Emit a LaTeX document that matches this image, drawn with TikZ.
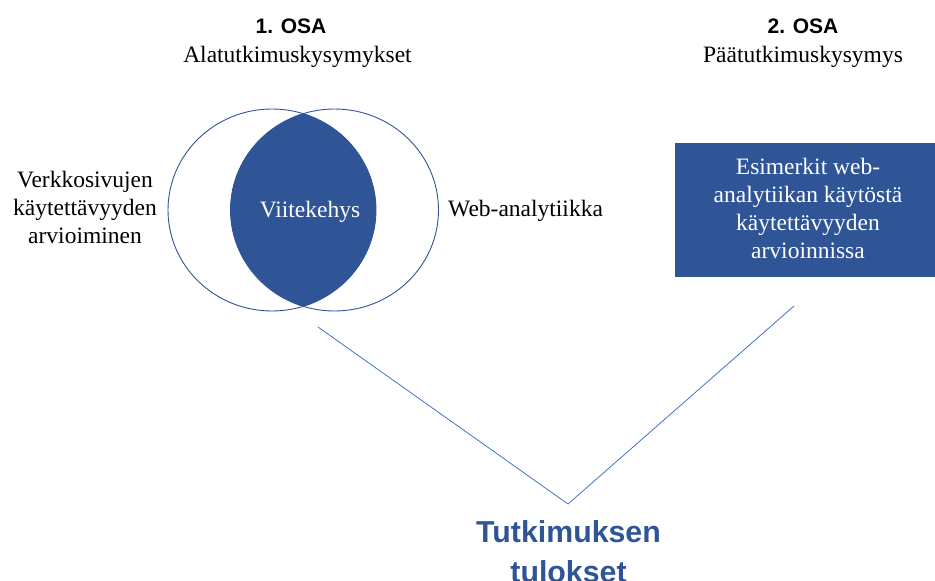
\documentclass[tikz,border=0pt]{standalone}
\usepackage{fontspec}
\setmainfont{Liberation Serif}
\setsansfont{Liberation Sans}
\usetikzlibrary{shapes.geometric}
\definecolor{dblue}{HTML}{2F5597}
\definecolor{lblue}{HTML}{4472C4}
\begin{document}
\begin{tikzpicture}[x=1pt,y=-1pt,
  head/.style={font=\sffamily\bfseries\fontsize{21}{25}\selectfont, anchor=base, inner sep=0},
  sub/.style={font=\fontsize{23.5}{28}\selectfont, anchor=base, inner sep=0},
  body/.style={font=\fontsize{23.5}{27.7}\selectfont, align=center, anchor=base, inner sep=0},
  ring/.style={draw=dblue, line width=0.9pt, ellipse, minimum width=208pt, minimum height=202pt, inner sep=0},
  link/.style={draw=lblue, line width=0.8pt}
]
\useasboundingbox (0,0) rectangle (935,581);
% headers
\node[head] (h1) at (291,33) {1. OSA};
\node[sub] (s1) at (297.5,62) {Alatutkimuskysymykset};
\node[head] (h2) at (803,33) {2. OSA};
\node[sub] (s2) at (803,62) {Päätutkimuskysymys};
% lens
\begin{scope}
  \clip (272,210) ellipse [x radius=104, y radius=101];
  \fill[dblue] (334.5,210) ellipse [x radius=104, y radius=101];
\end{scope}
\node[ring] (cl) at (272,210) {};
\node[ring] (cr) at (334.5,210) {};
\node[body, text=white] (vk) at (310,217) {Viitekehys};
\node[body] (left) at (85,243) {Verkkosivujen\\käytettävyyden\\arvioiminen};
\node[body, anchor=base west] (web) at (448,216) {Web-analytiikka};
% box
\node[fill=dblue, minimum width=260pt, minimum height=134pt, inner sep=0] (box) at (805,210) {};
\node[body, text=white] (boxt) at (808,258) {Esimerkit web-\\analytiikan käytöstä\\käytettävyyden\\arvioinnissa};
% connectors
\coordinate (la) at (318,327);
\coordinate (vx) at (568,504);
\coordinate (ra) at (794,306);
\draw[link] (la) -- (vx) -- (ra);
\node[font=\sffamily\bfseries\fontsize{30.3}{40}\selectfont, text=dblue, align=center, anchor=base, inner sep=0] (res) at (568.5,582) {Tutkimuksen\\tulokset};
\end{tikzpicture}
\end{document}
